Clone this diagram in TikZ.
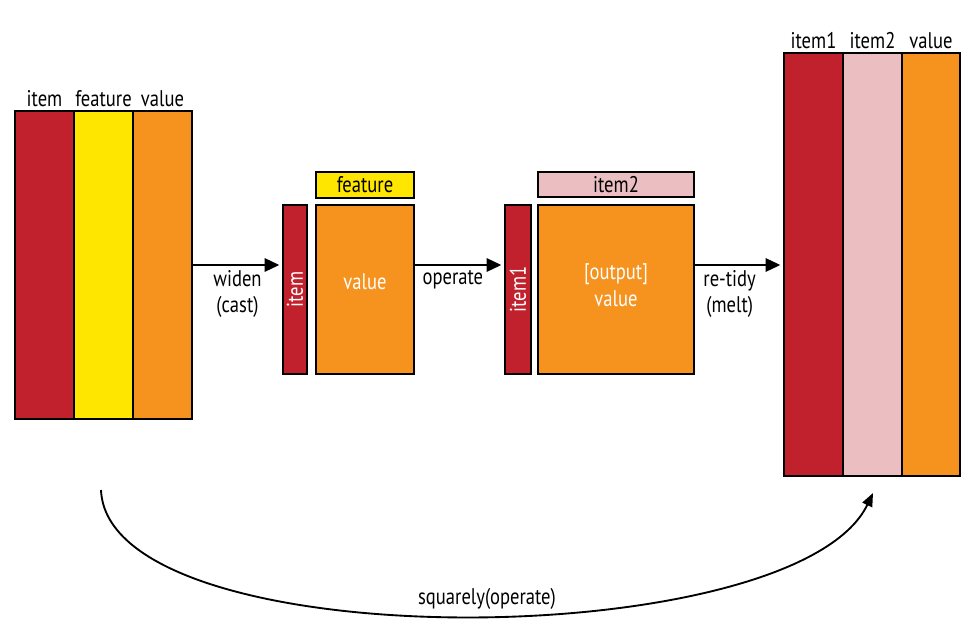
\documentclass[tikz,border=0pt]{standalone}
\usepackage{fontspec}
\setmainfont[FakeStretch=0.82]{PT Sans}
\usetikzlibrary{arrows.meta,calc,positioning}

\definecolor{cRed}{RGB}{193,33,45}
\definecolor{cYellow}{RGB}{255,230,0}
\definecolor{cOrange}{RGB}{246,146,30}
\definecolor{cPink}{RGB}{235,190,194}
\def\pxu{0.75pt}

\begin{document}
\begin{tikzpicture}[x=0.75pt,y=-0.75pt,>=Latex]

% ----------------------------
% Styles
% ----------------------------
\tikzset{
	col/.style={draw=black,line width=1.5pt,inner sep=0pt,anchor=north west},
	lab/.style={font=\fontsize{17}{20}\selectfont,inner sep=1pt},
	inlab/.style={lab,text=white},
	flow/.style={-{Triangle[length=11pt,width=10pt]},line width=1.5pt,shorten >=2pt},
	loop/.style={-{Triangle[length=10pt,width=8pt]},line width=1.4pt}
}

\useasboundingbox (0,0) rectangle (970,624);

% ============================================================
% LEFT: tidy table (item, feature, value)
% ============================================================
\node[col,fill=cRed,minimum width=59*\pxu,minimum height=308*\pxu] (litem) at (14,110) {};
\node[col,fill=cYellow,minimum width=59*\pxu,minimum height=308*\pxu] (lfeat) at (73,110) {};
\node[col,fill=cOrange,minimum width=59*\pxu,minimum height=308*\pxu] (lval) at (132,110) {};
\node[lab,above=1pt of litem] (litemlab) {item};
\node[lab,above=1pt of lfeat] (lfeatlab) {feature};
\node[lab,above=1pt of lval] (lvallab) {value};

% ============================================================
% MIDDLE: wide table (item x feature)
% ============================================================
\node[col,fill=cRed,minimum width=24*\pxu,minimum height=169*\pxu] (mitem) at (282,204) {};
\node[inlab,rotate=90] (mitemlab) at (mitem.center) {item};
\node[col,fill=cOrange,minimum width=98*\pxu,minimum height=169*\pxu] (mval) at (315,204) {};
\node[inlab] (mvallab) at ($(mval.center)+(0,-8)$) {value};
\node[col,lab,fill=cYellow,minimum width=98*\pxu,minimum height=26*\pxu] (mfeat) at (315,171) {feature};

% ============================================================
% MIDDLE RIGHT: operated table (item1 x item2)
% ============================================================
\node[col,fill=cRed,minimum width=26*\pxu,minimum height=169*\pxu] (oitem) at (504,204) {};
\node[inlab,rotate=90] (oitemlab) at (oitem.center) {item1};
\node[col,fill=cOrange,minimum width=156*\pxu,minimum height=169*\pxu] (oval) at (537,204) {};
\node[inlab,align=center] (ovallab) at ($(oval.center)+(0,-4)$) {[output]\\value};
\node[col,lab,fill=cPink,minimum width=156*\pxu,minimum height=25*\pxu] (oitemb) at (537,171) {item2};

% ============================================================
% RIGHT: re-tidied table (item1, item2, value)
% ============================================================
\node[col,fill=cRed,minimum width=59*\pxu,minimum height=423*\pxu] (ritema) at (783,52) {};
\node[col,fill=cPink,minimum width=59*\pxu,minimum height=423*\pxu] (ritemb) at (842,52) {};
\node[col,fill=cOrange,minimum width=58*\pxu,minimum height=423*\pxu] (rval) at (901,52) {};
\node[lab,above=1pt of ritema] (ritemalab) {item1};
\node[lab,above=1pt of ritemb] (ritemblab) {item2};
\node[lab,above=1pt of rval] (rvallab) {value};

% ============================================================
% Arrows between the steps
% ============================================================
\draw[flow] (lval.east) -- (mitem.west |- lval.east)
	node[lab,midway,below=2pt,align=center] (widenlab) {widen\\(cast)};
\draw[flow] (mval.east |- lval.east) -- (oitem.west |- lval.east)
	node[lab,midway,below=2pt,xshift=-5] (operlab) {operate};
\draw[flow] (oval.east |- lval.east) -- (ritema.west |- lval.east)
	node[lab,midway,below=2pt,align=center,xshift=-7] (retidylab) {re-tidy\\(melt)};

% Shortcut: all in one go
\coordinate (cstart) at (101,490);
\coordinate (cend) at (873,493);
\draw[loop] (cstart) .. controls (108,660) and (795,655) .. (cend);
\node[lab] (squarelab) at (487,599) {squarely(operate)};

\end{tikzpicture}
\end{document}
